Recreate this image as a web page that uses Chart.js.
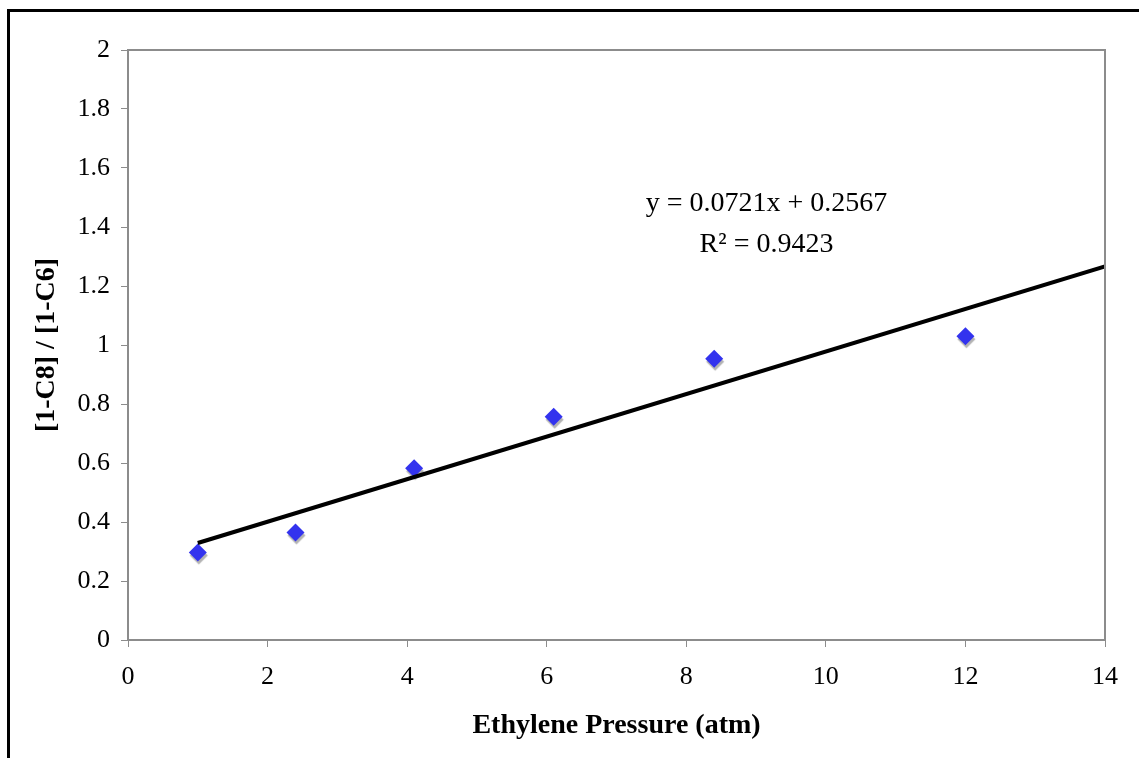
<!DOCTYPE html>
<html>
<head>
<meta charset="utf-8">
<script src="https://cdn.jsdelivr.net/npm/chart.js@4.4.0/dist/chart.umd.min.js"></script>
<style>
  html, body { margin: 0; padding: 0; background: #fff; }
  #wrap { width: 1139px; height: 758px; }
</style>
</head>
<body>
<div id="wrap"><canvas id="mycanvas"></canvas></div>
<script>
// measured points
var pressure = [1.0, 2.4, 4.1, 6.1, 8.4, 12.0];
var ratio = [0.297, 0.364, 0.582, 0.757, 0.953, 1.03];
// linear trend from the picture
var slope = 0.0721;
var intercept = 0.2567;
var trendX = [1, 14];
var xTicks = [0, 2, 4, 6, 8, 10, 12, 14];
var yTicks = [0, 0.2, 0.4, 0.6, 0.8, 1, 1.2, 1.4, 1.6, 1.8, 2];

var points = [];
for (var i in pressure) {
	points.push({x: pressure[i], y: ratio[i]});
}
var trend = [];
for (var j in trendX) {
	trend.push({x: trendX[j], y: slope * trendX[j] + intercept});
}

var serif = "'Liberation Serif', 'Times New Roman', serif";

var framePlugin = {
	id: 'frame',
	beforeDraw: function(chart) {
		var c = chart.ctx;
		c.save();
		c.fillStyle = '#fff';
		c.fillRect(0, 0, chart.width, chart.height);
		c.strokeStyle = '#000';
		c.lineWidth = 3;
		c.beginPath();
		c.moveTo(8.5, chart.height);
		c.lineTo(8.5, 10.5);
		c.lineTo(chart.width, 10.5);
		c.stroke();
		c.restore();
	},
	afterDatasetsDraw: function(chart) {
		var a = chart.chartArea;
		var c = chart.ctx;
		c.save();
		c.strokeStyle = '#8c8c8c';
		c.lineWidth = 2;
		c.strokeRect(a.left, a.top, a.right - a.left, a.bottom - a.top);
		c.restore();
	},
	afterDraw: function(chart) {
		var c = chart.ctx;
		var xs = chart.scales.x, ys = chart.scales.y;
		c.save();
		c.fillStyle = '#000';
		c.font = "28px " + serif;
		c.textAlign = 'center';
		c.textBaseline = 'middle';
		var cx = xs.getPixelForValue(9.15);
		c.fillText('y = 0.0721x + 0.2567', cx, ys.getPixelForValue(1.478));
		c.fillText('R\u00B2 = 0.9423', cx, ys.getPixelForValue(1.34));
		c.restore();
	}
};

var shadowPlugin = {
	id: 'shadow',
	beforeDatasetDraw: function(chart, args) {
		if (args.index !== 1) return;
		var c = chart.ctx;
		c.save();
		c.shadowColor = 'rgba(0,0,0,0.3)';
		c.shadowOffsetX = 1;
		c.shadowOffsetY = 3;
		c.shadowBlur = 1;
	},
	afterDatasetDraw: function(chart, args) {
		if (args.index !== 1) return;
		chart.ctx.restore();
	}
};

var ctx = document.getElementById('mycanvas');
var chart = new Chart(ctx, {
	type: 'scatter',
	data: {
		datasets: [
			{
				type: 'line',
				data: trend,
				borderColor: '#000',
				borderWidth: 4,
				pointRadius: 0,
				fill: false
			},
			{
				data: points,
				pointStyle: 'rectRot',
				pointRadius: 9,
				pointHoverRadius: 9,
				backgroundColor: '#3333ee',
				borderColor: '#3333ee',
				borderWidth: 0
			}
		]
	},
	plugins: [framePlugin, shadowPlugin],
	options: {
		responsive: true,
		maintainAspectRatio: false,
		animation: false,
		layout: { padding: { left: 0, right: 34, top: 50, bottom: 0 } },
		plugins: { legend: { display: false }, tooltip: { enabled: false } },
		scales: {
			x: {
				type: 'linear',
				min: 0, max: 14,
				afterBuildTicks: function(s) { s.ticks = xTicks.map(function(v){ return {value: v}; }); },
				afterFit: function(s) { s.height = 118; },
				grid: { drawOnChartArea: false, drawTicks: true, tickLength: 7, color: '#8c8c8c', lineWidth: 1 },
				border: { color: '#8c8c8c', width: 2 },
				ticks: { color: '#000', font: { family: serif, size: 26 }, padding: 15, maxRotation: 0,
					callback: function(v) { return String(v); } },
				title: { display: true, text: 'Ethylene Pressure (atm)', color: '#000', font: { family: serif, size: 28, weight: 'bold' }, padding: { top: 6, bottom: 15 } }
			},
			y: {
				type: 'linear',
				min: 0, max: 2,
				afterBuildTicks: function(s) { s.ticks = yTicks.map(function(v){ return {value: v}; }); },
				afterFit: function(s) { s.width = 128; },
				grid: { drawOnChartArea: false, drawTicks: true, tickLength: 7, color: '#8c8c8c', lineWidth: 1 },
				border: { color: '#8c8c8c', width: 2 },
				ticks: { color: '#000', font: { family: serif, size: 26 }, padding: 11,
					callback: function(v) { return String(Math.round(v * 10) / 10); } },
				title: { display: true, text: '[1-C8] / [1-C6]', color: '#000', font: { family: serif, size: 28, weight: 'bold' }, padding: { top: 30 } }
			}
		}
	}
});
</script>
</body>
</html>
